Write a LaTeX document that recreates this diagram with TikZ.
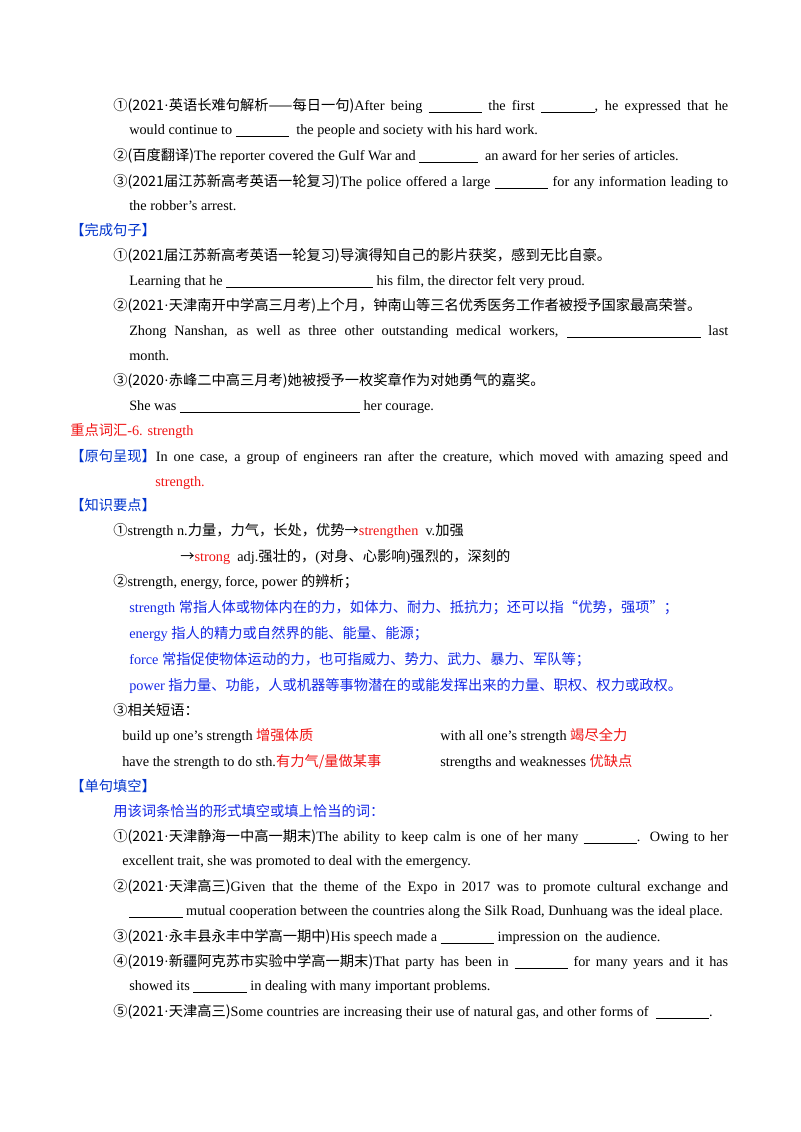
\documentclass[tikz,border=0pt]{standalone}
\usepackage{fontspec}
\setmainfont{Liberation Serif}
\newfontfamily\cjk{Noto Sans CJK SC}
\newcommand\zh[1]{{\cjk #1}}
\newcommand\dt{{\fontspec{Liberation Serif}·}}
\newcommand\jbox[2]{\makebox[#1\dimexpr0.75pt\relax][s]{#2}}
\definecolor{hblue}{RGB}{0,51,204}
\definecolor{tblue}{RGB}{20,40,230}
\definecolor{tred}{RGB}{240,20,20}
\tikzset{
  ln/.style={anchor=base west,inner sep=0pt,font=\fontsize{10.7}{13}\selectfont},
}
\begin{document}
\begin{tikzpicture}[x=0.75pt,y=-0.75pt]
\useasboundingbox (0,0) rectangle (800,1132);
\node[ln] (l1) at (113,110) {\jbox{615}{\zh{①(2021}\dt\zh{英语长难句解析——每日一句)}After being \underline{\hspace{40pt}} the first \underline{\hspace{40pt}}, he expressed that he}};
\node[ln] (l2) at (129,134) {would continue to \underline{\hspace{40pt}}\ \ the people and society with his hard work.};
\node[ln] (l3) at (113,160) {\zh{②(百度翻译)}The reporter covered the Gulf War and \underline{\hspace{44pt}}\ \ an award for her series of articles.};
\node[ln] (l4) at (113,186) {\jbox{615}{\zh{③(2021届江苏新高考英语一轮复习)}The police offered a large \underline{\hspace{40pt}} for any information leading to}};
\node[ln] (l5) at (129,210) {the robber’s arrest.};
\node[ln,text=hblue] (h1) at (70,235) {\zh{【完成句子】}};
\node[ln] (l6) at (113,260) {\zh{①(2021届江苏新高考英语一轮复习)导演得知自己的影片获奖，感到无比自豪。}};
\node[ln] (l7) at (129,285) {Learning that he \underline{\hspace{110pt}} his film, the director felt very proud.};
\node[ln] (l8) at (113,310) {\zh{②(2021}\dt\zh{天津南开中学高三月考)上个月，钟南山等三名优秀医务工作者被授予国家最高荣誉。}};
\node[ln] (l9) at (129,335) {\jbox{599}{Zhong Nanshan, as well as three other outstanding medical workers, \underline{\hspace{100pt}} last}};
\node[ln] (l10) at (129,360) {month.};
\node[ln] (l11) at (113,385) {\zh{③(2020}\dt\zh{赤峰二中高三月考)她被授予一枚奖章作为对她勇气的嘉奖。}};
\node[ln] (l12) at (129,410) {She was \underline{\hspace{135pt}} her courage.};
\node[ln,text=tred] (h2) at (70,435) {\zh{重点词汇}-6. strength};
\node[ln] (l13) at (70,461) {\jbox{658}{\zh{\textcolor{hblue}{【原句呈现】}}In one case, a group of engineers ran after the creature, which moved with amazing speed and}};
\node[ln,text=tred] (l14) at (155,486) {strength.};
\node[ln,text=hblue] (h3) at (70,510) {\zh{【知识要点】}};
\node[ln] (l15) at (113,535) {\zh{①}strength n.\zh{力量，力气，长处，优势→}\textcolor{tred}{strengthen}\ \ v.\zh{加强}};
\node[ln] (l16) at (180,561) {\zh{→}\textcolor{tred}{strong}\ \ adj.\zh{强壮的，}(\zh{对身、心影响})\zh{强烈的，深刻的}};
\node[ln] (l17) at (113,586) {\zh{②}strength, energy, force, power \zh{的辨析；}};
\node[ln,text=tblue] (l18) at (129,612) {strength \zh{常指人体或物体内在的力，如体力、耐力、抵抗力；还可以指“优势，强项”；}};
\node[ln,text=tblue] (l19) at (129,638) {energy \zh{指人的精力或自然界的能、能量、能源；}};
\node[ln,text=tblue] (l20) at (129,664) {force \zh{常指促使物体运动的力，也可指威力、势力、武力、暴力、军队等；}};
\node[ln,text=tblue] (l21) at (129,690) {power \zh{指力量、功能，人或机器等事物潜在的或能发挥出来的力量、职权、权力或政权。}};
\node[ln] (l22) at (113,715) {\zh{③相关短语：}};
\node[ln] (p1) at (122,740) {build up one’s strength \textcolor{tred}{\zh{增强体质}}};
\node[ln] (p2) at (440,740) {with all one’s strength \textcolor{tred}{\zh{竭尽全力}}};
\node[ln] (p3) at (122,766) {have the strength to do sth.\textcolor{tred}{\zh{有力气/量做某事}}};
\node[ln] (p4) at (440,766) {strengths and weaknesses \textcolor{tred}{\zh{优缺点}}};
\node[ln,text=hblue] (h4) at (70,791) {\zh{【单句填空】}};
\node[ln,text=tblue] (l23) at (113,816) {\zh{用该词条恰当的形式填空或填上恰当的词：}};
\node[ln] (l24) at (113,841) {\jbox{615}{\zh{①(2021}\dt\zh{天津静海一中高一期末)}The ability to keep calm is one of her many \underline{\hspace{40pt}}. Owing to her}};
\node[ln] (l25) at (122,865) {excellent trait, she was promoted to deal with the emergency.};
\node[ln] (l26) at (113,891) {\jbox{615}{\zh{②(2021}\dt\zh{天津高三)}Given that the theme of the Expo in 2017 was to promote cultural exchange and}};
\node[ln] (l27) at (129,915) {\underline{\hspace{40pt}} mutual cooperation between the countries along the Silk Road, Dunhuang was the ideal place.};
\node[ln] (l28) at (113,941) {\zh{③(2021}\dt\zh{永丰县永丰中学高一期中)}His speech made a \underline{\hspace{40pt}} impression on\ \ the audience.};
\node[ln] (l29) at (113,966) {\jbox{615}{\zh{④(2019}\dt\zh{新疆阿克苏市实验中学高一期末)}That party has been in \underline{\hspace{40pt}} for many years and it has}};
\node[ln] (l30) at (129,990) {showed its \underline{\hspace{40pt}} in dealing with many important problems.};
\node[ln] (l31) at (113,1016) {\zh{⑤(2021}\dt\zh{天津高三)}Some countries are increasing their use of natural gas, and other forms of \ \underline{\hspace{40pt}}.};
\end{tikzpicture}
\end{document}
